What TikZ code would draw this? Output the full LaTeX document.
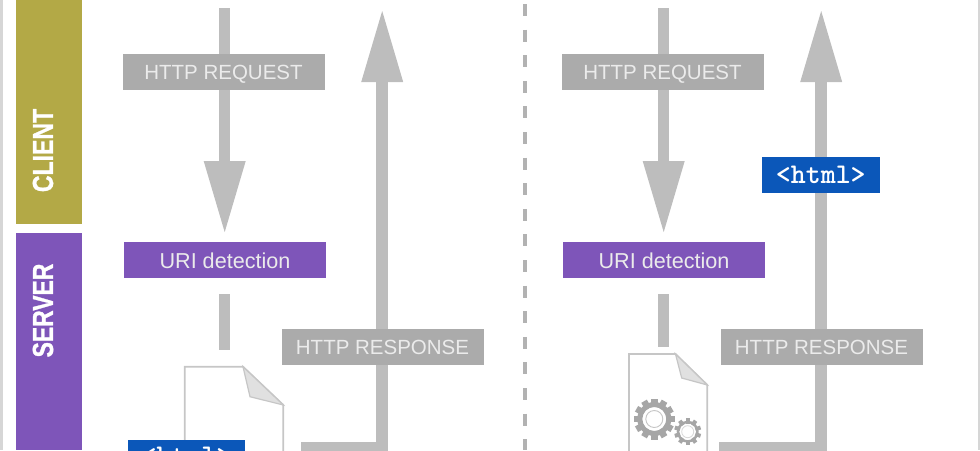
\documentclass[tikz,border=0pt]{standalone}
\usepackage{fontspec}
\setmainfont{Liberation Sans}
\newfontfamily\sidefont[FakeBold=1.2]{Liberation Sans Bold}
\usepackage{xcolor}
\usetikzlibrary{arrows.meta,backgrounds}
\definecolor{clientcol}{HTML}{B3A946}
\definecolor{servercol}{HTML}{7E55B9}
\definecolor{boxcol}{HTML}{ABABAB}
\definecolor{shaftcol}{HTML}{BDBDBD}
\definecolor{htmlcol}{HTML}{0B57B9}
\definecolor{doccol}{HTML}{C6C6C6}
\definecolor{cogcol}{HTML}{A6A6A6}
\tikzset{
  label/.style={rectangle,inner sep=0pt,minimum width=202pt,minimum height=36pt,text height=15.4pt,text depth=0pt,text=white!92!black,font=\fontsize{20.5}{24}\selectfont},
  httplabel/.style={label,fill=boxcol},
  urilabel/.style={label,fill=servercol,font=\fontsize{21.6}{24}\selectfont},
  htmllabel/.style={label,fill=htmlcol,minimum width=117.5pt,text height=17.4pt,text=white,font=\ttfamily\bfseries\fontsize{28.5}{30}\selectfont},
  sidelabel/.style={rotate=90,inner sep=0pt,text=white,font=\sidefont\fontsize{29}{32}\selectfont},
  shaft/.style={draw=shaftcol,line width=11.5pt},
  bigarrow/.style={shaft,-{Triangle[length=71pt,width=42pt,line width=0pt]}},
  doc/.style={draw=doccol,line width=1.8pt,fill=white,line join=miter},
  fold/.style={draw=doccol,line width=1.2pt,fill=black!12},
  divider/.style={draw=black!30,line width=3.5pt,dash pattern=on 12pt off 13.6pt},
  cog/.pic={
    \foreach \a in {0,30,...,330} {\fill[cogcol,rotate=\a] (-3.2pt,12pt) rectangle (3.2pt,20.5pt);}
    \fill[cogcol,even odd rule] (0,0) circle (17pt) (0,0) circle (12pt);
    \draw[doccol,line width=.9pt] (0,0) circle (8.5pt);
  },
  smallcog/.pic={
    \foreach \a in {0,36,...,324} {\fill[cogcol,rotate=\a] (-2pt,8pt) rectangle (2pt,13.5pt);}
    \fill[cogcol,even odd rule] (0,0) circle (11pt) (0,0) circle (8.5pt);
    \draw[black!15,line width=.8pt] (0,0) circle (6pt);
  },
}
\begin{document}
\begin{tikzpicture}[x=1pt,y=-1pt]
  \useasboundingbox (0,0) rectangle (980,450);
  % page frame and divider
  \fill[black!16] (0,0) rectangle (2.5,450);
  \fill[black!16] (978,0) rectangle (980,450);
  \draw[divider] (524.8,4) -- (524.8,450);
  % side bars
  \fill[clientcol] (15.5,0) rectangle (82,224);
  \fill[servercol] (15.5,232.5) rectangle (82,450);
  \node (client) [sidelabel] at (43,150.5) {\scalebox{.795}[1]{CLIENT}};
  \node (server) [sidelabel] at (43,310.5) {\scalebox{.79}[1]{SERVER}};
  % the two columns
  \foreach \p/\dx/\dy in {a/0/0,b/439/-3.5} {
    \node (req\p) [httplabel] at (223.5+\dx,72) {HTTP REQUEST};
    \node (uri\p) [urilabel] at (225+\dx,260.3) {URI detection};
    \node (res\p) [httplabel] at (383+\dx-.5,347) {HTTP RESPONSE};
    \coordinate (start\p) at (225+\dx-.3,8);
    \coordinate (stub\p) at (225+\dx-.3,294);
    \coordinate (stubend\p) at (225+\dx-.3,350+\dy);
    \coordinate (out\p) at (301+\dx+21*\dy/3.5,447.7);
    \coordinate (top\p) at (382.2+\dx,11);
    \begin{scope}[on background layer]
      \draw[bigarrow,shorten >=10pt] (start\p) -- (start\p |- uri\p.north);
      \draw[shaft] (stub\p) -- (stubend\p);
      \draw[bigarrow] (out\p) -| (top\p);
    \end{scope}
  }
  % left document
  \draw[doc] (184.8,460) -- (184.8,366.7) -- (243,366.7) -- (283.3,405) -- (283.3,460);
  \draw[fold] (243,366.7) -- (250,396.7) -- (283.3,405) -- cycle;
  \node (htmla) [htmllabel,minimum height=32pt] at (186.5,456) {<html>};
  % right document
  \draw[doc] (629,460) -- (629,354) -- (675.5,354) -- (707.3,385) -- (707.3,460);
  \draw[fold] (675.5,354) -- (681.7,378) -- (707.3,385) -- cycle;
  \pic at (654.3,419) {cog};
  \pic at (687.7,431.7) {smallcog};
  \node (htmlb) [htmllabel] at (820.8,175) {<html>};
\end{tikzpicture}
\end{document}
